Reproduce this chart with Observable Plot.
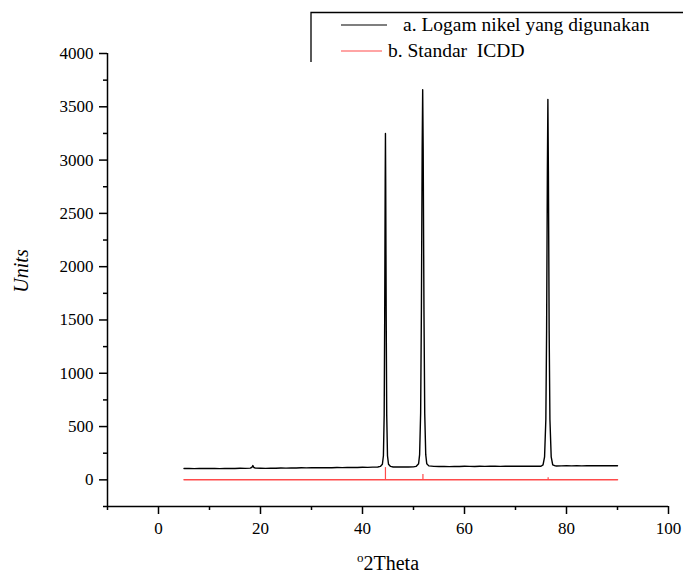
<!DOCTYPE html>
<html>
<head>
<meta charset="utf-8">
<script src="https://cdn.jsdelivr.net/npm/d3@7"></script>
<script src="https://cdn.jsdelivr.net/npm/@observablehq/plot@0.6"></script>
<style>
  body { margin: 0; background: #fff; }
  #wrap { position: relative; width: 683px; height: 576px; }
  #wrap svg, #wrap svg text { font-family: "Liberation Serif", "DejaVu Serif", serif !important; }
  g[aria-label="y-axis label"] text { font-style: italic; font-size: 20px; }
  g[aria-label="x-axis label"] text { font-size: 20px; }
  #legend { position: absolute; left: 0; top: 0; }
</style>
</head>
<body>
<div id="wrap"></div>
<script>
// Sample pattern: 2θ angle and intensity (units)
const sampleTheta = [5, 6, 7, 8, 9, 10, 11, 12, 13, 14, 15, 16, 17, 18, 18.3, 18.5, 18.7, 19, 20, 21, 22, 23, 24, 25, 26, 27, 28, 29, 30, 31, 32, 33, 34, 35, 36, 37, 38, 39, 40, 41, 42, 43, 43.5, 43.9, 44.1, 44.25, 44.35, 44.45, 44.5, 44.55, 44.65, 44.75, 44.9, 45.1, 45.5, 46, 47, 48, 49, 50, 50.5, 51.0, 51.2, 51.4, 51.55, 51.7, 51.8, 51.9, 52.05, 52.2, 52.4, 52.6, 53, 54, 55, 56, 57, 58, 59, 60, 61, 62, 63, 64, 65, 66, 67, 68, 69, 70, 71, 72, 73, 74, 75, 75.4, 75.7, 75.95, 76.1, 76.25, 76.35, 76.45, 76.6, 76.75, 77.0, 77.3, 77.8, 78, 79, 80, 81, 82, 83, 84, 85, 86, 87, 88, 89, 90];
const sampleCounts = [106, 107, 105, 106, 108, 106, 107, 105, 108, 106, 107, 109, 108, 110, 118, 134, 116, 110, 109, 108, 110, 109, 111, 110, 112, 111, 113, 112, 113, 114, 113, 115, 114, 116, 115, 116, 117, 116, 118, 117, 119, 121, 126, 146, 226, 606, 1500, 2800, 3250, 2800, 1500, 606, 226, 146, 126, 121, 120, 121, 120, 122, 126, 151, 236, 626, 1600, 3100, 3660, 3100, 1600, 626, 236, 151, 131, 126, 125, 126, 124, 126, 125, 127, 126, 125, 127, 126, 128, 127, 126, 128, 127, 128, 127, 129, 128, 127, 128, 141, 216, 566, 1400, 2900, 3570, 2900, 1400, 566, 216, 141, 131, 130, 131, 132, 131, 132, 131, 133, 132, 133, 132, 133, 132, 133];

// ICDD standard reference lines
const icddTheta = [44.5, 51.85, 76.4];
const icddIntensity = [115, 50, 20];
const icddRange = [5, 90];

const xTicks = [0, 20, 40, 60, 80, 100];
const xMinorTicks = [-10, 10, 30, 50, 70, 90];
const yTicks = [0, 500, 1000, 1500, 2000, 2500, 3000, 3500, 4000];
const yMinorTicks = [-250, 250, 750, 1250, 1750, 2250, 2750, 3250, 3750];

const seriesNames = ["a. Logam nikel yang digunakan", "b. Standar  ICDD"];
const seriesColors = ["#000000", "#ff4a4a"];

const sample = sampleTheta.map((t, i) => ({theta: t, counts: sampleCounts[i]}));
const icdd = icddTheta.map((t, i) => ({theta: t, h: icddIntensity[i]}));
const icddBase = icddRange.map(t => ({theta: t, v: 0}));

const fmt = d3.format("d");

const chart = Plot.plot({
  width: 683,
  height: 576,
  marginLeft: 107,
  marginRight: 15,
  marginTop: 53,
  marginBottom: 70,
  style: {fontSize: "17px", fontFamily: "'Liberation Serif', serif", background: "white"},
  x: {domain: [-10, 100]},
  y: {domain: [-250, 4000]},
  marks: [
    Plot.axisX({ticks: xMinorTicks, tickSize: 4, stroke: "black", strokeWidth: 1.5, text: null, label: null}),
    Plot.axisX({ticks: xTicks, tickFormat: fmt, tickSize: 8, tickPadding: 7, stroke: "black", strokeWidth: 1.5, label: "°2Theta", labelArrow: "none", labelAnchor: "center", labelOffset: 63, color: "black"}),
    Plot.axisY({ticks: yMinorTicks, tickSize: 4, stroke: "black", strokeWidth: 1.5, text: null, label: null}),
    Plot.axisY({ticks: yTicks, tickFormat: fmt, tickSize: 8, tickPadding: 6, stroke: "black", strokeWidth: 1.5, label: "Units", labelArrow: "none", labelAnchor: "center", labelOffset: 94, color: "black"}),
    Plot.ruleX([-10], {stroke: "black", strokeWidth: 1.5}),
    Plot.ruleY([-250], {stroke: "black", strokeWidth: 1.5}),
    Plot.line(icddBase, {x: "theta", y: "v", stroke: seriesColors[1], strokeWidth: 1.5}),
    Plot.ruleX(icdd, {x: "theta", y1: 0, y2: "h", stroke: seriesColors[1], strokeWidth: 1.2}),
    Plot.line(sample, {x: "theta", y: "counts", stroke: seriesColors[0], strokeWidth: 1.4})
  ]
});

document.getElementById("wrap").appendChild(chart);

// superscript "o" in x label
const xl = chart.querySelector('g[aria-label="x-axis label"] text');
if (xl) {
  xl.textContent = "";
  const s = document.createElementNS("http://www.w3.org/2000/svg", "tspan");
  s.setAttribute("font-size", "13px");
  s.setAttribute("dy", "-8");
  s.textContent = "o";
  const r = document.createElementNS("http://www.w3.org/2000/svg", "tspan");
  r.setAttribute("dy", "8");
  r.textContent = "2Theta";
  xl.appendChild(s);
  xl.appendChild(r);
}
const yl = chart.querySelector('g[aria-label="y-axis label"] text');
if (yl) yl.setAttribute("dx", "9");

// Legend overlay (top right, open box)
const NS = "http://www.w3.org/2000/svg";
const leg = document.createElementNS(NS, "svg");
leg.setAttribute("id", "legend");
leg.setAttribute("width", 683);
leg.setAttribute("height", 70);
const box = document.createElementNS(NS, "path");
box.setAttribute("d", "M311,62 V12.5 H690");
box.setAttribute("fill", "none");
box.setAttribute("stroke", "black");
box.setAttribute("stroke-width", "1.3");
leg.appendChild(box);
const rows = [
  {y: 25, x1: 341, x2: 387, tx: 403},
  {y: 51, x1: 341, x2: 382, tx: 388}
];
seriesNames.forEach((name, i) => {
  const l = document.createElementNS(NS, "line");
  l.setAttribute("x1", rows[i].x1); l.setAttribute("x2", rows[i].x2);
  l.setAttribute("y1", rows[i].y); l.setAttribute("y2", rows[i].y);
  l.setAttribute("stroke", seriesColors[i]); l.setAttribute("stroke-width", "1.2");
  leg.appendChild(l);
  const t = document.createElementNS(NS, "text");
  t.setAttribute("x", rows[i].tx); t.setAttribute("y", rows[i].y + 6);
  t.setAttribute("font-size", "19.5px");
  t.setAttribute("font-family", "'Liberation Serif', serif");
  t.style.whiteSpace = "pre";
  t.textContent = name;
  leg.appendChild(t);
});
document.getElementById("wrap").appendChild(leg);
</script>
</body>
</html>
